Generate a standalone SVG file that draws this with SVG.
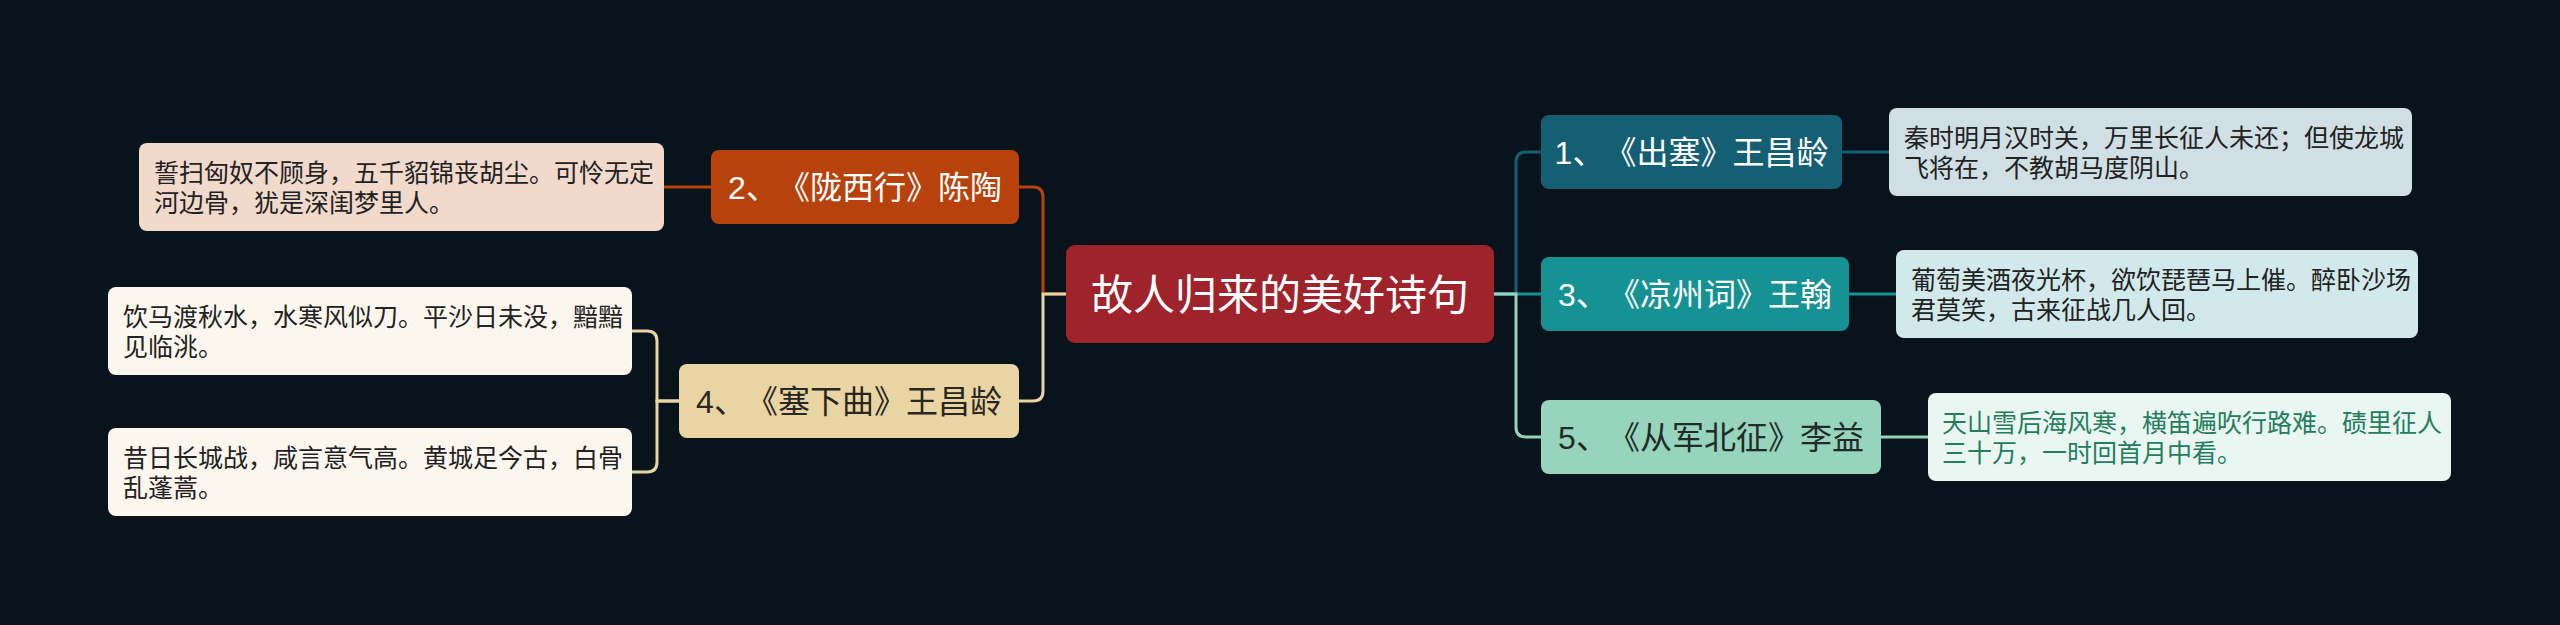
<svg xmlns="http://www.w3.org/2000/svg" width="2560" height="625" viewBox="0 0 2560 625">
<style>
text{font-family:"Liberation Sans","Noto Sans CJK SC",sans-serif;text-spacing-trim:space-all}
.c{fill:none;stroke-width:3}
.nt{font-size:32px;text-anchor:middle}
.lt{font-size:25px;fill:#222}
</style>
<rect x="0" y="0" width="2560" height="625" fill="#08131b"/>
<g id="connectors">
<path class="c" stroke="#b8420c" d="M1066 294 H1043 V197 Q1043 187 1033 187 H1019"/>
<path class="c" stroke="#e8d5a3" d="M1066 294 H1043 V391 Q1043 401 1033 401 H1019"/>
<path class="c" stroke="#b8420c" d="M711 187 H664"/>
<path class="c" stroke="#e8d5a3" d="M679 401 H657 V341 Q657 331 647 331 H632"/>
<path class="c" stroke="#e8d5a3" d="M679 401 H657 V462 Q657 472 647 472 H632"/>
<path class="c" stroke="#145f73" d="M1494 294 H1516 V162 Q1516 152 1526 152 H1541"/>
<path class="c" stroke="#179294" d="M1494 294 H1541"/>
<path class="c" stroke="#96d4bd" d="M1494 294 H1516 V427 Q1516 437 1526 437 H1541"/>
<path class="c" stroke="#145f73" d="M1842 152 H1889"/>
<path class="c" stroke="#179294" d="M1849 294 H1896"/>
<path class="c" stroke="#96d4bd" d="M1881 437 H1928"/>
</g>
<g id="center">
<rect x="1066" y="245" width="428" height="98" rx="9" fill="#9f232b"/>
<text x="1280" y="310" font-size="42" text-anchor="middle" fill="#fff">故人归来的美好诗句</text>
</g>
<g id="n1">
<rect x="1541" y="115" width="301" height="74" rx="8" fill="#145f73"/>
<text class="nt" x="1691.5" y="164" fill="#fff">1、《出塞》王昌龄</text>
</g>
<g id="n3">
<rect x="1541" y="257" width="308" height="74" rx="8" fill="#179294"/>
<text class="nt" x="1695" y="306" fill="#fff">3、《凉州词》王翰</text>
</g>
<g id="n5">
<rect x="1541" y="400" width="340" height="74" rx="8" fill="#96d4bd"/>
<text class="nt" x="1711" y="449" fill="#1f2b27">5、《从军北征》李益</text>
</g>
<g id="n2">
<rect x="711" y="150" width="308" height="74" rx="8" fill="#b8420c"/>
<text class="nt" x="865" y="199" fill="#fff">2、《陇西行》陈陶</text>
</g>
<g id="n4">
<rect x="679" y="364" width="340" height="74" rx="8" fill="#e8d5a3"/>
<text class="nt" x="849" y="413" fill="#2a2620">4、《塞下曲》王昌龄</text>
</g>
<g id="l1">
<rect x="1889" y="108" width="523" height="88" rx="8" fill="#cfdfe4"/>
<text class="lt" x="1904" y="147">秦时明月汉时关，万里长征人未还；但使龙城</text>
<text class="lt" x="1904" y="177">飞将在，不教胡马度阴山。</text>
</g>
<g id="l3">
<rect x="1896" y="250" width="522" height="88" rx="8" fill="#d1e9ea"/>
<text class="lt" x="1911" y="289">葡萄美酒夜光杯，欲饮琵琶马上催。醉卧沙场</text>
<text class="lt" x="1911" y="319">君莫笑，古来征战几人回。</text>
</g>
<g id="l5">
<rect x="1928" y="393" width="523" height="88" rx="8" fill="#e9f6f1"/>
<text class="lt" x="1942" y="432" style="fill:#247d5d">天山雪后海风寒，横笛遍吹行路难。碛里征人</text>
<text class="lt" x="1942" y="462" style="fill:#247d5d">三十万，一时回首月中看。</text>
</g>
<g id="l2">
<rect x="139" y="143" width="525" height="88" rx="8" fill="#f1d9cc"/>
<text class="lt" x="154" y="182">誓扫匈奴不顾身，五千貂锦丧胡尘。可怜无定</text>
<text class="lt" x="154" y="212">河边骨，犹是深闺梦里人。</text>
</g>
<g id="l4a">
<rect x="108" y="287" width="524" height="88" rx="8" fill="#fbf7ee"/>
<text class="lt" x="123" y="326">饮马渡秋水，水寒风似刀。平沙日未没，黯黯</text>
<text class="lt" x="123" y="356">见临洮。</text>
</g>
<g id="l4b">
<rect x="108" y="428" width="524" height="88" rx="8" fill="#fbf7ee"/>
<text class="lt" x="123" y="467">昔日长城战，咸言意气高。黄城足今古，白骨</text>
<text class="lt" x="123" y="497">乱蓬蒿。</text>
</g>
</svg>
